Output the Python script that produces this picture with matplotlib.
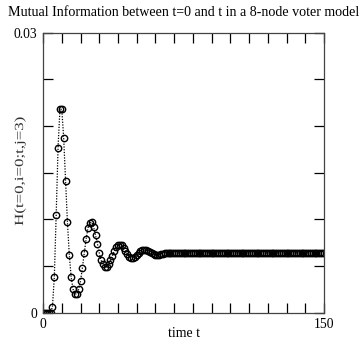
import numpy as np
import matplotlib
matplotlib.use('Agg')
import matplotlib.pyplot as plt
from matplotlib.ticker import MultipleLocator
from matplotlib.patheffects import AbstractPathEffect
from matplotlib.transforms import Affine2D

# mutual information H(t=0,i=0;t,j=3), one value per time step t = 0..150
t = np.arange(0, 151)
h_start = [0.0, 0.0, 0.0, 0.0, 0.0, 0.0006, 0.0038, 0.0105, 0.0177, 0.0218,
           0.0218, 0.0187, 0.0141, 0.0097, 0.0062, 0.0038, 0.0025, 0.0020, 0.0020, 0.0025,
           0.0034, 0.0048, 0.0064, 0.0079, 0.0091, 0.0096, 0.0097, 0.0092, 0.0083, 0.0074,
           0.0064, 0.0056, 0.0052, 0.0049, 0.0049, 0.0052, 0.0056, 0.0061, 0.0066, 0.0070,
           0.0072, 0.0073, 0.0072, 0.0069, 0.0066, 0.0063, 0.0060, 0.0059, 0.0059, 0.0060,
           0.0062, 0.0064, 0.0066, 0.0067, 0.0067, 0.0067, 0.0066, 0.0065, 0.0064, 0.0063,
           0.0062, 0.0062, 0.0062, 0.0063, 0.0063, 0.0064, 0.0064, 0.0064, 0.0064, 0.0064]
h_tail = [0.0064, 0.0064, 0.0064, 0.0064, 0.0064, 0.0064, 0.0064, 0.0064, 0.0064, 0.0064,
          0.0064, 0.0064, 0.0064, 0.0064, 0.0064, 0.0064, 0.0064, 0.0064, 0.0064, 0.0064,
          0.0064, 0.0064, 0.0064, 0.0064, 0.0064, 0.0064, 0.0064, 0.0064, 0.0064, 0.0064,
          0.0064, 0.0064, 0.0064, 0.0064, 0.0064, 0.0064, 0.0064, 0.0064, 0.0064, 0.0064,
          0.0064, 0.0064, 0.0064, 0.0064, 0.0064, 0.0064, 0.0064, 0.0064, 0.0064, 0.0064,
          0.0064, 0.0064, 0.0064, 0.0064, 0.0064, 0.0064, 0.0064, 0.0064, 0.0064, 0.0064,
          0.0064, 0.0064, 0.0064, 0.0064, 0.0064, 0.0064, 0.0064, 0.0064, 0.0064, 0.0064,
          0.0064, 0.0064, 0.0064, 0.0064, 0.0064, 0.0064, 0.0064, 0.0064, 0.0064, 0.0064,
          0.0064]
h = h_start + h_tail


# the y label in the original is drawn stretched along its baseline
class Stretch(AbstractPathEffect):
    def __init__(self, sx):
        super().__init__()
        self.sx = sx

    def draw_path(self, renderer, gc, tpath, affine, rgbFace=None):
        renderer.draw_path(gc, tpath, Affine2D().scale(self.sx, 1.0) + affine, rgbFace)


plt.rcParams['font.family'] = ['Liberation Serif', 'DejaVu Serif']

fig = plt.figure(figsize=(3.62, 3.42), dpi=100)
ax = fig.add_axes([0.119, 0.086, 0.776, 0.818])
ax.plot(t, h, color="black", linestyle=(0, (1, 1.2)), linewidth=0.9,
        marker="o", markersize=4.6, markerfacecolor="none",
        markeredgecolor="black", markeredgewidth=1.0)

ax.set_xlim(0, 150)
ax.set_ylim(0, 0.03)
ax.set_xticks([0, 150])
ax.set_yticks([0, 0.03])
ax.set_xticklabels(["0", "150"])
ax.set_yticklabels(["0", "0.03"])
ax.xaxis.set_minor_locator(MultipleLocator(10))
ax.yaxis.set_minor_locator(MultipleLocator(0.005))
ax.tick_params(which="both", direction="in", top=True, right=True,
               length=7, width=0.9, labelsize=9.8, pad=4)
for s in ax.spines.values():
    s.set_linewidth(0.9)
    s.set_color("#444444")

ax.set_title("Mutual Information between t=0 and t in a 8-node voter model",
             fontsize=10.1, pad=12)
ax.set_xlabel("time t", fontsize=10, labelpad=-3)
ylab = ax.set_ylabel("H(t=0,i=0;t,j=3)", fontsize=9, rotation=90, color="#333333",
                     ha="left", va="center", rotation_mode="anchor")
ylab.set_path_effects([Stretch(1.35)])
ax.yaxis.set_label_coords(-0.082, 0.31)

fig.savefig("out.png", dpi=100)
